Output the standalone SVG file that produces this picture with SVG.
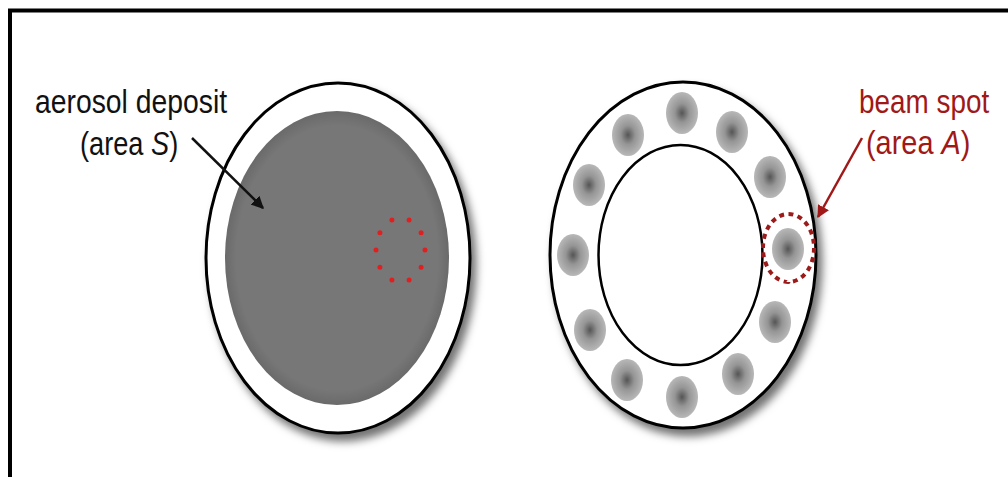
<svg xmlns="http://www.w3.org/2000/svg" width="1008" height="477" viewBox="0 0 1008 477">
<style>
.lbl{font-family:"Liberation Sans",Arial,sans-serif;font-size:34px}
.blk{fill:#111}
.red{fill:#a01818}
.rim{fill:#fff;stroke:#000;stroke-width:3}
.spot{fill:url(#spotG)}
</style>
<defs>
<filter id="sh" x="-20%" y="-20%" width="140%" height="140%">
<feDropShadow dx="5" dy="7" stdDeviation="4" flood-color="#000" flood-opacity="0.55"/>
</filter>
<radialGradient id="spotG">
<stop offset="0" stop-color="#555"/>
<stop offset="0.45" stop-color="#959595"/>
<stop offset="1" stop-color="#b8b8b8"/>
</radialGradient>
<radialGradient id="grayG">
<stop offset="0.9" stop-color="#777"/>
<stop offset="1" stop-color="#6a6a6a"/>
</radialGradient>
<marker id="ahB" viewBox="0 0 10 10" refX="9" refY="5" markerWidth="5" markerHeight="5" orient="auto" markerUnits="strokeWidth">
<path d="M0,0 L10,5 L0,10 z" fill="#111"/>
</marker>
<marker id="ahR" viewBox="0 0 10 10" refX="9" refY="5" markerWidth="5" markerHeight="5" orient="auto" markerUnits="strokeWidth">
<path d="M0,0 L10,5 L0,10 z" fill="#a01818"/>
</marker>
</defs>
<rect x="0" y="0" width="1008" height="477" fill="#fff"/>
<rect x="10" y="10.5" width="1020" height="480" fill="none" stroke="#000" stroke-width="4"/>

<g id="filter-left">
<ellipse class="rim" cx="338" cy="258" rx="132" ry="175" filter="url(#sh)"/>
<ellipse cx="337" cy="258" rx="112" ry="147" fill="url(#grayG)"/>
<ellipse cx="400.5" cy="250" rx="24.5" ry="32" fill="none" stroke="#e02020" stroke-width="5" stroke-linecap="round" pathLength="100" stroke-dasharray="0 10"/>
</g>

<g id="filter-right">
<ellipse class="rim" cx="683" cy="255" rx="133" ry="173" filter="url(#sh)"/>
<ellipse cx="680.5" cy="255" rx="82" ry="110" fill="#fff" stroke="#000" stroke-width="2.5"/>
<ellipse class="spot" cx="682" cy="113" rx="16" ry="21"/>
<ellipse class="spot" cx="628" cy="135" rx="16" ry="21"/>
<ellipse class="spot" cx="732" cy="132" rx="16" ry="21"/>
<ellipse class="spot" cx="589" cy="185" rx="16" ry="21"/>
<ellipse class="spot" cx="770" cy="177" rx="16" ry="21"/>
<ellipse class="spot" cx="573" cy="255" rx="16" ry="21"/>
<ellipse class="spot" cx="788" cy="249" rx="16" ry="21"/>
<ellipse class="spot" cx="590" cy="330" rx="16" ry="21"/>
<ellipse class="spot" cx="775" cy="322" rx="16" ry="21"/>
<ellipse class="spot" cx="627" cy="380" rx="16" ry="21"/>
<ellipse class="spot" cx="738" cy="374" rx="16" ry="21"/>
<ellipse class="spot" cx="682" cy="397" rx="16" ry="21"/>
<ellipse cx="788.5" cy="248" rx="25.5" ry="34" fill="none" stroke="#9b1b1b" stroke-width="4" pathLength="100" stroke-dasharray="2.6 2.4"/>
</g>

<g id="label-aerosol">
<text class="lbl blk" transform="translate(35,113) scale(0.833,1)">aerosol deposit</text>
<text class="lbl blk" transform="translate(80,155) scale(0.8,1)">(area <tspan font-style="italic">S</tspan>)</text>
</g>

<g id="label-beam">
<text class="lbl red" transform="translate(859,113) scale(0.82,1)">beam spot</text>
<text class="lbl red" transform="translate(866,154) scale(0.85,1)">(area <tspan font-style="italic">A</tspan>)</text>
</g>

<g id="connectors">
<line x1="192" y1="138" x2="263" y2="208" stroke="#111" stroke-width="2.5" marker-end="url(#ahB)"/>
<line x1="862" y1="138" x2="818" y2="217" stroke="#a01818" stroke-width="2.5" marker-end="url(#ahR)"/>
</g>
</svg>
